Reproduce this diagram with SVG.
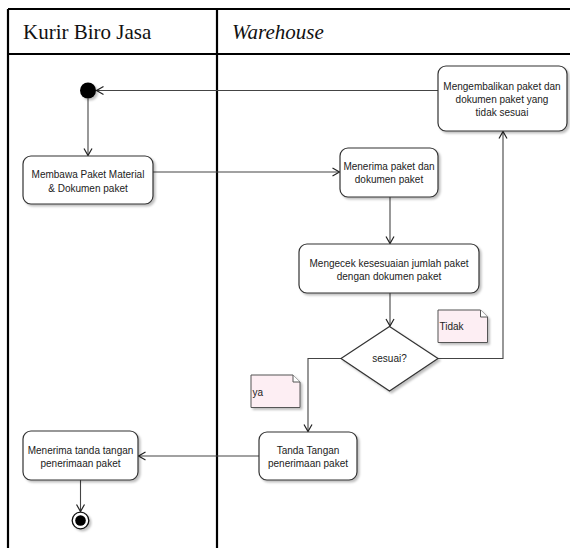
<svg xmlns="http://www.w3.org/2000/svg" width="570" height="548" viewBox="0 0 570 548">
  <defs>
    <filter id="shadow" x="-10%" y="-10%" width="130%" height="140%">
      <feDropShadow dx="2" dy="2" stdDeviation="1" flood-color="#000" flood-opacity="0.25"/>
    </filter>
    <marker id="open" markerWidth="10" markerHeight="10" refX="8" refY="5" orient="auto" markerUnits="userSpaceOnUse">
      <path d="M1,1 L8,5 L1,9" fill="none" stroke="#222" stroke-width="1.2"/>
    </marker>
  </defs>
  <style>
    .lane { stroke: #000; stroke-width: 2.2; fill: none; }
    .head { font-family: "Liberation Serif", "Times New Roman", serif; font-size: 21px; fill: #111; }
    .act { fill: #fff; stroke: #333; stroke-width: 1.2; filter: url(#shadow); }
    .note { fill: #fdeef3; stroke: #555; stroke-width: 1; filter: url(#shadow); }
    .lbl { font-family: "Liberation Sans", Arial, sans-serif; font-size: 10px; fill: #222; text-anchor: middle; }
    .nlbl { font-family: "Liberation Sans", Arial, sans-serif; font-size: 10px; fill: #222; }
    .edge { fill: none; stroke: #444; stroke-width: 1.1; }
  </style>
  <rect width="570" height="548" fill="#fff"/>

  <!-- swimlane frame -->
  <g id="swimlanes">
    <path class="lane" d="M8,9 H570 M8,54 H570 M8,9 V548 M217,9 V548"/>
    <text class="head" x="23" y="39">Kurir Biro Jasa</text>
    <text class="head" x="232" y="39" font-style="italic">Warehouse</text>
  </g>

  <!-- connectors -->
  <g id="connectors">
    <line class="edge" x1="88" y1="98.5" x2="88" y2="155.5" marker-end="url(#open)"/>
    <line class="edge" x1="153" y1="172" x2="339.5" y2="172" marker-end="url(#open)"/>
    <line class="edge" x1="390" y1="197" x2="390" y2="243.5" marker-end="url(#open)"/>
    <line class="edge" x1="390" y1="293" x2="390" y2="326" marker-end="url(#open)"/>
    <polyline class="edge" points="438,358.5 503,358.5 503,131.5" marker-end="url(#open)"/>
    <line class="edge" x1="438" y1="90.5" x2="96.5" y2="90.5" marker-end="url(#open)"/>
    <polyline class="edge" points="341,358.5 308,358.5 308,431.5" marker-end="url(#open)"/>
    <line class="edge" x1="259" y1="456" x2="138.5" y2="456" marker-end="url(#open)"/>
    <line class="edge" x1="80.5" y1="480" x2="80.5" y2="511.5" marker-end="url(#open)"/>
  </g>

  <g id="start">
    <circle cx="88" cy="90.5" r="8" fill="#000" filter="url(#shadow)"/>
  </g>

  <g id="membawa">
    <rect class="act" x="23" y="156" width="130" height="48" rx="8"/>
    <text class="lbl" x="88" y="177.5">Membawa Paket Material</text>
    <text class="lbl" x="88" y="191.5">&amp; Dokumen paket</text>
  </g>

  <g id="menerima-paket">
    <rect class="act" x="340" y="148" width="98" height="49" rx="8"/>
    <text class="lbl" x="389" y="169.5">Menerima paket dan</text>
    <text class="lbl" x="389" y="182.5">dokumen paket</text>
  </g>

  <g id="mengembalikan">
    <rect class="act" x="438" y="66" width="129" height="65" rx="8"/>
    <text class="lbl" x="502" y="89.5">Mengembalikan paket dan</text>
    <text class="lbl" x="502" y="103">dokumen paket yang</text>
    <text class="lbl" x="502" y="116">tidak sesuai</text>
  </g>

  <g id="mengecek">
    <rect class="act" x="299" y="244" width="180" height="49" rx="8"/>
    <text class="lbl" x="389" y="267">Mengecek kesesuaian jumlah paket</text>
    <text class="lbl" x="389" y="280">dengan dokumen paket</text>
  </g>

  <g id="keputusan">
    <polygon class="act" points="389.5,326.5 438,358.5 389.5,391 341,358.5"/>
    <text class="lbl" x="389.5" y="362">sesuai?</text>
  </g>

  <g id="note-tidak">
    <path class="note" d="M438,310 H480.5 L487.5,317 V342.5 H438 Z"/>
    <path d="M480.5,310 V317 H487.5" fill="#fff" stroke="#555" stroke-width="1"/>
    <text class="nlbl" x="439.5" y="330">Tidak</text>
  </g>

  <g id="note-ya">
    <path class="note" d="M251,375 H293 L300,382 V407.5 H251 Z"/>
    <path d="M293,375 V382 H300" fill="#fff" stroke="#555" stroke-width="1"/>
    <text class="nlbl" x="252.5" y="395.5">ya</text>
  </g>

  <g id="tanda-tangan">
    <rect class="act" x="259" y="432" width="98" height="48" rx="8"/>
    <text class="lbl" x="308" y="453.5">Tanda Tangan</text>
    <text class="lbl" x="308" y="466.5">penerimaan paket</text>
  </g>

  <g id="menerima-tanda-tangan">
    <rect class="act" x="23" y="431" width="115" height="49" rx="8"/>
    <text class="lbl" x="80.5" y="453.5">Menerima tanda tangan</text>
    <text class="lbl" x="80.5" y="467">penerimaan paket</text>
  </g>

  <g id="end">
    <circle cx="80.5" cy="520.5" r="8.3" fill="#fff" stroke="#111" stroke-width="1.3" filter="url(#shadow)"/>
    <circle cx="80.5" cy="520.5" r="5.3" fill="#000"/>
  </g>
</svg>
